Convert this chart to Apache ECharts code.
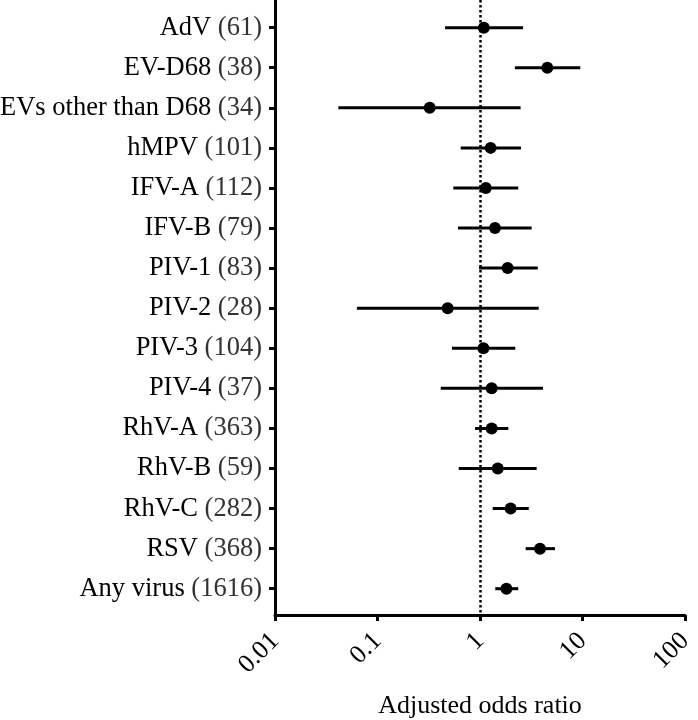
<!DOCTYPE html>
<html>
<head>
<meta charset="utf-8">
<script src="https://cdn.jsdelivr.net/npm/echarts@6/dist/echarts.min.js"></script>
<style>
html,body{margin:0;padding:0;background:#fff;}
#chart{width:698px;height:720px;}
</style>
</head>
<body>
<div id="chart"></div>
<script>
const categories = ['AdV','EV-D68','EVs other than D68','hMPV','IFV-A','IFV-B','PIV-1','PIV-2','PIV-3','PIV-4','RhV-A','RhV-B','RhV-C','RSV','Any virus'];
const counts = [61,38,34,101,112,79,83,28,104,37,363,59,282,368,1616];
const oddsRatio = [1.09,4.54,0.323,1.27,1.14,1.40,1.86,0.484,1.08,1.30,1.30,1.49,1.99,3.85,1.81];
const ciLow  = [0.456,2.19,0.0415,0.648,0.549,0.61,0.98,0.063,0.533,0.414,0.894,0.62,1.33,2.79,1.41];
const ciHigh = [2.63,9.52,2.49,2.51,2.36,3.19,3.66,3.74,2.21,4.12,1.89,3.57,2.99,5.39,2.36];
const xTickLabels = ['0.01','0.1','1','10','100'];
const refValue = 1;

const FONT = '"Liberation Serif", "DejaVu Serif", serif';
const chart = echarts.init(document.getElementById('chart'));
const rowIdx = categories.map((_, i) => i);

chart.setOption({
  animation: false,
  backgroundColor: '#fff',
  grid: { left: 275, right: 13, top: 0, bottom: 105, containLabel: false, outerBoundsMode: 'none' },
  xAxis: {
    type: 'log', logBase: 10, min: 0.01, max: 100,
    name: 'Adjusted odds ratio', nameLocation: 'middle', nameGap: 78,
    nameTextStyle: { fontFamily: FONT, fontSize: 26, color: '#000' },
    axisLine: { show: true, onZero: false, lineStyle: { color: '#000', width: 3 } },
    axisTick: { show: true, length: 6, lineStyle: { color: '#000', width: 3 } },
    minorTick: { show: false },
    splitLine: { show: false },
    axisLabel: {
      rotate: 45, margin: 22, fontFamily: FONT, fontSize: 26, color: '#000',
      formatter: v => {
        const i = Math.round(Math.log10(v)) + 2;
        return xTickLabels[i] !== undefined ? xTickLabels[i] : '';
      }
    }
  },
  yAxis: {
    type: 'value', inverse: true, min: -0.69, max: 14.656,
    axisLine: { show: true, onZero: false, lineStyle: { color: '#000', width: 3 } },
    axisTick: { show: true, length: 6, customValues: rowIdx, lineStyle: { color: '#000', width: 3 } },
    splitLine: { show: false },
    axisLabel: {
      show: true, margin: 13, customValues: rowIdx,
      formatter: v => '{n|' + categories[v] + ' }{c|(' + counts[v] + ')}',
      rich: {
        n: { fontFamily: FONT, fontSize: 26.5, color: '#000' },
        c: { fontFamily: FONT, fontSize: 26.5, color: '#333' }
      }
    }
  },
  series: [
    {
      type: 'custom',
      data: ciLow.map((l, i) => [l, ciHigh[i], i]),
      encode: { x: [0, 1], y: 2 },
      renderItem: (params, api) => {
        const p1 = api.coord([api.value(0), api.value(2)]);
        const p2 = api.coord([api.value(1), api.value(2)]);
        return {
          type: 'line',
          shape: { x1: p1[0], y1: p1[1], x2: p2[0], y2: p2[1] },
          style: { stroke: '#000', lineWidth: 3 }
        };
      },
      z: 2
    },
    {
      type: 'scatter',
      data: oddsRatio.map((v, i) => [v, i]),
      symbol: 'circle', symbolSize: 12,
      itemStyle: { color: '#000', opacity: 1 },
      z: 3,
      markLine: {
        silent: true, symbol: ['none', 'none'],
        label: { show: false },
        lineStyle: { type: 'dotted', width: 2.5, color: '#000', opacity: 1 },
        data: [{ xAxis: refValue }]
      }
    }
  ]
});
</script>
</body>
</html>
